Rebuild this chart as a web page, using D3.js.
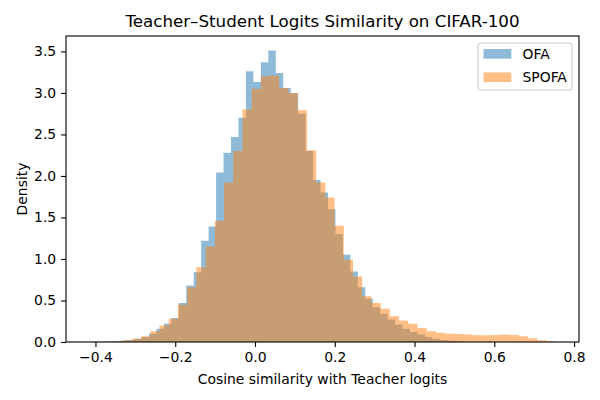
<!DOCTYPE html>
<html>
<head>
<meta charset="utf-8">
<script src="https://cdn.jsdelivr.net/npm/d3@7"></script>
<style>
  body { margin: 0; background: #fff; }
  text { font-family: "DejaVu Sans", sans-serif; }
</style>
</head>
<body>
<script>
// Histogram bins (density)
var ofaStart = -0.4154;
var ofaBinWidth = 0.0187;
var ofaDensity = [0.003, 0.004, 0.006, 0.01, 0.015, 0.025, 0.04, 0.06, 0.10, 0.16,
    0.22, 0.29, 0.47, 0.68, 0.84, 1.22, 1.39, 2.04, 2.28, 2.47,
    2.70, 3.26, 3.13, 3.37, 3.51, 3.24, 3.06, 3.00, 2.75, 2.30,
    1.95, 1.80, 1.60, 1.30, 1.05, 0.85, 0.66, 0.52, 0.42, 0.34,
    0.27, 0.21, 0.16, 0.12, 0.09, 0.06, 0.04, 0.025, 0.015, 0.008];

var spofaStart = -0.4011;
var spofaBinWidth = 0.0231;
var spofaDensity = [0.002, 0.004, 0.008, 0.02, 0.04, 0.07, 0.13, 0.20, 0.28, 0.45,
    0.66, 0.90, 1.15, 1.46, 1.92, 2.30, 2.80, 3.05, 3.20, 3.21,
    3.06, 3.00, 2.79, 2.31, 1.92, 1.74, 1.40, 0.99, 0.79, 0.55,
    0.47, 0.40, 0.31, 0.26, 0.22, 0.17, 0.13, 0.11, 0.10, 0.095,
    0.09, 0.08, 0.08, 0.085, 0.09, 0.085, 0.07, 0.045, 0.02, 0.01];

var seriesNames = ["OFA", "SPOFA"];
var seriesColors = ["#1f77b4", "#ff7f0e"];
var xTicks = [-0.4, -0.2, 0.0, 0.2, 0.4, 0.6, 0.8];
var yTicks = [0.0, 0.5, 1.0, 1.5, 2.0, 2.5, 3.0, 3.5];

//Width and height
var w = 600;
var h = 400;
var margin = {top: 36, right: 21, bottom: 58, left: 66};
var iw = w - margin.left - margin.right;
var ih = h - margin.top - margin.bottom;

function toBins(start, width, dens) {
    return dens.map(function (d, i) {
        return {x0: start + i * width, x1: start + (i + 1) * width, d: d};
    });
}

var series = [
    toBins(ofaStart, ofaBinWidth, ofaDensity),
    toBins(spofaStart, spofaBinWidth, spofaDensity)
];

// matplotlib style autoscale: 5% margins, y sticks to 0
var lo = d3.min(series, s => s[0].x0);
var hi = d3.max(series, s => s[s.length - 1].x1);
var pad = (hi - lo) * 0.05;
var yMax = d3.max(series, s => d3.max(s, b => b.d)) * 1.05;

var xScale = d3.scaleLinear().domain([lo - pad, hi + pad]).range([0, iw]);
var yScale = d3.scaleLinear().domain([0, yMax]).range([ih, 0]);

var svg = d3.select("body")
    .append("svg")
    .attr("width", w)
    .attr("height", h);

var g = svg.append("g")
    .attr("transform", "translate(" + margin.left + "," + margin.top + ")");

// step areas (one path per series so there are no seams)
var area = d3.area()
    .curve(d3.curveStepAfter)
    .x(p => xScale(p[0]))
    .y0(yScale(0))
    .y1(p => yScale(p[1]));

series.forEach(function (s, i) {
    var pts = s.map(b => [b.x0, b.d]);
    pts.push([s[s.length - 1].x1, s[s.length - 1].d]);
    g.append("path")
        .datum(pts)
        .attr("d", area)
        .attr("fill", seriesColors[i])
        .attr("fill-opacity", 0.5);
});

// axes
var xAxis = g.append("g")
    .attr("transform", "translate(0," + ih + ")")
    .call(d3.axisBottom(xScale).tickValues(xTicks).tickFormat(d3.format(".1f"))
        .tickSize(4.9).tickPadding(4.9).tickSizeOuter(0));

var yAxis = g.append("g")
    .call(d3.axisLeft(yScale).tickValues(yTicks).tickFormat(d3.format(".1f"))
        .tickSize(4.9).tickPadding(4.9).tickSizeOuter(0));

[xAxis, yAxis].forEach(function (a) {
    a.select(".domain").remove();
    a.selectAll("line").attr("stroke", "#000").attr("stroke-width", 1.1);
    a.selectAll("text")
        .attr("font-family", "DejaVu Sans, sans-serif")
        .attr("font-size", "13.9px")
        .attr("fill", "#000");
});

// frame
g.append("rect")
    .attr("width", iw)
    .attr("height", ih)
    .attr("fill", "none")
    .attr("stroke", "#000")
    .attr("stroke-width", 1.1);

// title and labels
svg.append("text")
    .attr("x", margin.left + iw / 2)
    .attr("y", margin.top - 9)
    .attr("text-anchor", "middle")
    .attr("font-size", "16.7px")
    .text("Teacher\u2013Student Logits Similarity on CIFAR-100");

svg.append("text")
    .attr("x", margin.left + iw / 2)
    .attr("y", margin.top + ih + 42)
    .attr("text-anchor", "middle")
    .attr("font-size", "13.9px")
    .text("Cosine similarity with Teacher logits");

svg.append("text")
    .attr("transform", "translate(27," + (margin.top + ih / 2) + ") rotate(-90)")
    .attr("text-anchor", "middle")
    .attr("font-size", "13.9px")
    .text("Density");

// legend
var lg = svg.append("g")
    .attr("transform", "translate(" + (margin.left + iw - 7 - 94) + "," + (margin.top + 7) + ")");

lg.append("rect")
    .attr("width", 94)
    .attr("height", 47)
    .attr("rx", 2.8)
    .attr("fill", "#fff")
    .attr("fill-opacity", 0.8)
    .attr("stroke", "#ccc")
    .attr("stroke-width", 1.1);

seriesNames.forEach(function (name, i) {
    lg.append("rect")
        .attr("x", 5.5)
        .attr("y", 6 + i * 23.4)
        .attr("width", 27.8)
        .attr("height", 9.7)
        .attr("fill", seriesColors[i])
        .attr("fill-opacity", 0.5);
    lg.append("text")
        .attr("x", 44.5)
        .attr("y", 6 + i * 23.4 + 4.85)
        .attr("dy", "0.36em")
        .attr("font-size", "13.9px")
        .text(name);
});
</script>
</body>
</html>
